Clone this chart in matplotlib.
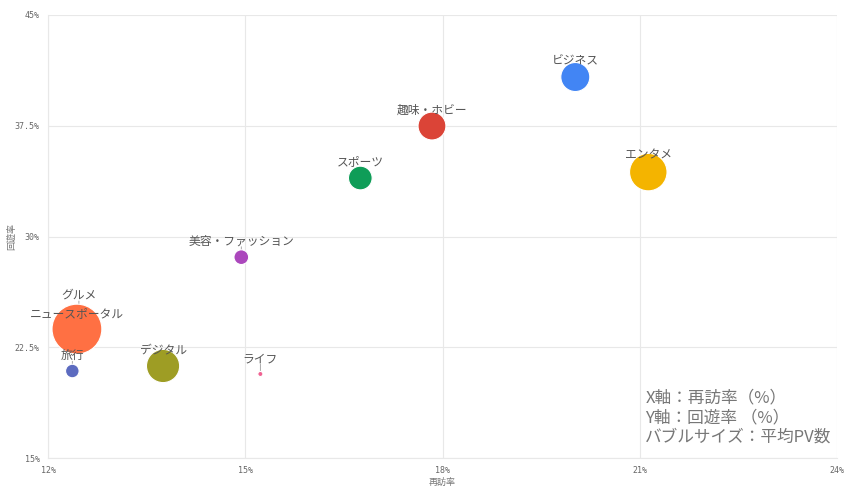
import matplotlib
matplotlib.use("Agg")
import matplotlib.pyplot as plt
from matplotlib.ticker import FixedLocator, FixedFormatter

plt.rcParams['font.family'] = ['Noto Sans CJK JP', 'DejaVu Sans']

# カテゴリ別：再訪率・回遊率・平均PV数
categories = ['グルメ', 'ビジネス', '趣味・ホビー', 'エンタメ', 'スポーツ', '美容・ファッション',
              'ニュースポータル', '旅行', 'デジタル', 'ライフ']
revisit = [12.47, 20.02, 17.84, 21.13, 16.75, 14.94, 12.44, 12.37, 13.75, 15.23]   # 再訪率 (%)
excursion = [23.75, 40.8, 37.48, 34.36, 33.96, 28.6, 23.73, 20.89, 21.23, 20.69]   # 回遊率 (%)
avg_pv = [2.0, 3.9, 3.6, 6.5, 2.6, 1.0, 11.5, 0.85, 5.1, 0.12]
colors = ['#00ACC1', '#4285F4', '#DB4437', '#F4B400', '#0F9D58', '#AB47BC',
          '#FF7043', '#5C6BC0', '#9E9D24', '#F06292']
label_off = [24, 11.5, 11.5, 12, 11.5, 11.5, 11, 11, 11.5, 11]

x_ticks = [12, 15, 18, 21, 24]
y_ticks = [15, 22.5, 30, 37.5, 45]
x_tick_labels = ['12%', '15%', '18%', '21%', '24%']
y_tick_labels = ['15%', '22.5%', '30%', '37.5%', '45%']

fig = plt.figure(figsize=(8.45, 4.88), dpi=100)
ax = fig.add_axes([48 / 845, 30 / 488, 789 / 845, 443 / 488])

sizes = [p * 112 for p in avg_pv]
ax.scatter(revisit, excursion, s=sizes, c=colors, edgecolors='white', linewidths=0.8, zorder=2)

for name, x, y, off in zip(categories, revisit, excursion, label_off):
    # 引き出し線
    ax.annotate('', xy=(x, y), xytext=(0, off - 4), textcoords='offset points',
                arrowprops=dict(arrowstyle='-', color='#999999', lw=0.6, shrinkA=0, shrinkB=0),
                zorder=1)
    ax.annotate(name, xy=(x, y), xytext=(0, off), textcoords='offset points',
                ha='center', va='center', fontsize=8.5, color='#555555', zorder=3)

ax.set_xlim(12, 24)
ax.set_ylim(15, 45)
ax.xaxis.set_major_locator(FixedLocator(x_ticks))
ax.xaxis.set_major_formatter(FixedFormatter(x_tick_labels))
ax.yaxis.set_major_locator(FixedLocator(y_ticks))
ax.yaxis.set_major_formatter(FixedFormatter(y_tick_labels))
ax.tick_params(length=0, labelsize=6, labelcolor='#666666', pad=6)
for lab in ax.get_xticklabels() + ax.get_yticklabels():
    lab.set_family('DejaVu Sans Mono')
ax.grid(True, color='#e8e8e8', lw=0.8, zorder=0)
ax.set_axisbelow(True)
for side in ['top', 'right']:
    ax.spines[side].set_visible(False)
for side in ['left', 'bottom']:
    ax.spines[side].set_color('#e8e8e8')

ax.set_xlabel('再訪率', fontsize=6.5, color='#777777', style='italic')
ax.set_ylabel('回遊率', fontsize=6.5, color='#777777', style='italic')
ax.xaxis.set_label_coords(0.5, -0.045)
ax.yaxis.set_label_coords(-0.041, 0.5)

ax.text(0.757, 0.155, 'X軸：再訪率（%）\nY軸：回遊率 （%）\nバブルサイズ：平均PV数',
        transform=ax.transAxes, ha='left', va='top', fontsize=12, color='#777777',
        linespacing=1.2, zorder=4)

fig.savefig('out.png', dpi=100)
